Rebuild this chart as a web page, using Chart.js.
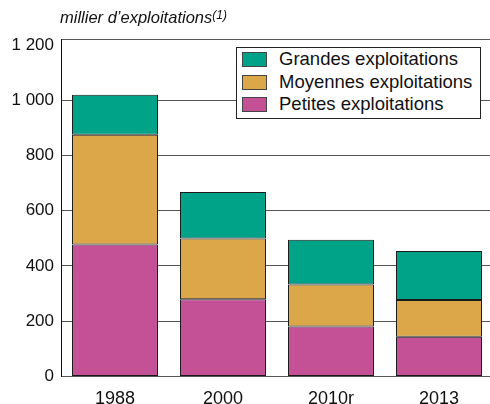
<!DOCTYPE html>
<html>
<head>
<meta charset="utf-8">
<script src="https://cdn.jsdelivr.net/npm/chart.js@4/dist/chart.umd.min.js"></script>
<style>
  html, body { margin: 0; padding: 0; background: #fff; overflow: hidden; width: 490px; height: 404px; }
  #wrap { position: absolute; left: 0; top: 0; width: 493px; height: 422px; }
  #title { position: absolute; left: 60px; top: 8px; font: italic 16.5px "Liberation Sans", Arial, sans-serif; color: #111; white-space: nowrap; }
  #title sup { font-size: 12px; vertical-align: 4px; line-height: 0; }
  #legend { position: absolute; left: 236px; top: 47px; width: 243px; height: 70px; border: 1px solid #222; background: #fff;
            font: 18.5px "Liberation Sans", Arial, sans-serif; color: #111; }
  .item { position: absolute; left: 5px; height: 16px; white-space: nowrap; }
  .sw { position: absolute; left: 0; top: 0; width: 23px; height: 13px; border: 1px solid #444; }
  .lb { position: absolute; left: 37px; top: -4px; line-height: 22px; }
</style>
</head>
<body>
<div id="wrap"><canvas id="chart-exploitations" width="493" height="422"></canvas></div>
<div id="title">millier d’exploitations<sup>(1)</sup></div>
<div id="legend"></div>
<script>
// categories and values (milliers d'exploitations)
var years = ["1988", "2000", "2010r", "2013"];
var petites = [478, 279, 181, 144];
var moyennes = [397, 220, 152, 133];
var grandes = [145, 169, 162, 177];
var yTicks = [0, 200, 400, 600, 800, 1000, 1200];
var yTop = 1222;

var colGrandes = '#00a388';
var colMoyennes = '#dba748';
var colPetites = '#c45096';

function fmt(v) {
  return String(v).replace(/\B(?=(\d{3})+(?!\d))/g, ' ');
}

// legend (html overlay)
var legendItems = [
  ["Grandes exploitations", colGrandes],
  ["Moyennes exploitations", colMoyennes],
  ["Petites exploitations", colPetites]
];
var lg = document.getElementById("legend");
for (var i = 0; i < legendItems.length; i++) {
  var d = document.createElement("div");
  d.className = "item";
  d.style.top = (4 + i * 22.5) + "px";
  d.innerHTML = '<span class="sw" style="background:' + legendItems[i][1] + '"></span><span class="lb">' + legendItems[i][0] + '</span>';
  lg.appendChild(d);
}

var ctx = document.getElementById("chart-exploitations").getContext("2d");
var chart = new Chart(ctx, {
  type: "bar",
  data: {
    labels: years,
    datasets: [
      { label: "Petites exploitations", data: petites, backgroundColor: colPetites },
      { label: "Moyennes exploitations", data: moyennes, backgroundColor: colMoyennes },
      { label: "Grandes exploitations", data: grandes, backgroundColor: colGrandes }
    ]
  },
  options: {
    responsive: false,
    animation: false,
    layout: { padding: { top: 39, left: 0, right: 0, bottom: 0 } },
    datasets: {
      bar: {
        borderColor: '#1a1a1a',
        borderWidth: 1,
        borderSkipped: false,
        categoryPercentage: 1,
        barPercentage: 0.796
      }
    },
    plugins: {
      legend: { display: false },
      tooltip: { enabled: false }
    },
    scales: {
      x: {
        stacked: true,
        grid: { display: false, drawTicks: false },
        border: { display: true, color: '#555', width: 1 },
        ticks: {
          padding: 12,
          color: '#111',
          font: { family: "'Liberation Sans', Arial, sans-serif", size: 18 }
        }
      },
      y: {
        stacked: true,
        min: 0,
        max: yTop,
        afterBuildTicks: function(scale) {
          scale.ticks = yTicks.concat([yTop]).map(function(v) { return { value: v }; });
        },
        afterFit: function(scale) { scale.width = 61; },
        grid: {
          drawTicks: false,
          color: function(c) {
            if (c.tick && c.tick.value === 1200) return 'rgba(0,0,0,0)';
            return '#555';
          },
          lineWidth: 1
        },
        border: { display: true, color: '#111', width: 1 },
        ticks: {
          padding: 7,
          color: '#111',
          font: { family: "'Liberation Sans', Arial, sans-serif", size: 17 },
          callback: function(v) { return v === yTop ? '' : fmt(v); }
        }
      }
    }
  }
});
</script>
</body>
</html>
